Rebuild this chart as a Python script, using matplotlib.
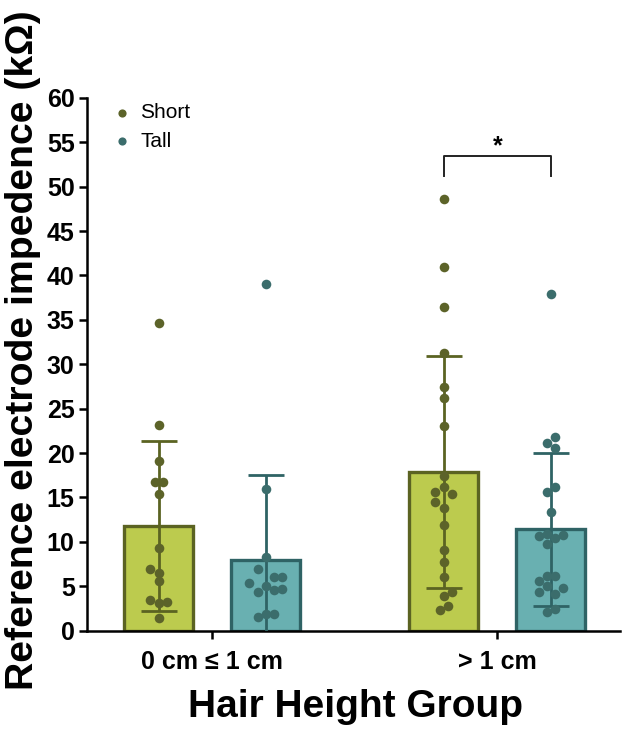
import matplotlib
matplotlib.use('Agg')
import matplotlib.pyplot as plt
import numpy as np

plt.rcParams['font.family'] = ['Liberation Sans', 'DejaVu Sans']

groups = ['0 cm \u2264 1 cm', '> 1 cm']
series = ['Short', 'Tall']

# individual impedance values (kΩ) and their horizontal jitter lanes
short_g1 = [34.6, 23.2, 19.1, 16.8, 16.7, 15.4, 9.3, 7.0, 6.5, 5.6, 3.5, 3.1, 3.2, 1.4]
short_g1_jit = [0, 0, 0, -0.5, 0.5, 0, 0, -1, 0, 0, -1, 0, 1, 0]
tall_g1 = [39.0, 16.0, 8.3, 6.9, 5.4, 6.0, 6.0, 4.4, 5.0, 4.6, 4.7, 1.5, 1.9, 1.9]
tall_g1_jit = [0, 0, 0, -1, -2, 1, 2, -1, 0, 1, 2, -1, 0, 1]
short_g2 = [48.6, 40.9, 36.4, 31.3, 27.4, 26.2, 23.1, 17.4, 16.2, 15.6, 15.4,
            14.5, 13.8, 11.9, 9.1, 7.7, 6.0, 4.4, 3.9, 2.8, 2.3]
short_g2_jit = [0, 0, 0, 0, 0, 0, 0, 0, 0, -1, 1, -1, 0, 0, 0, 0, 0, 1, 0, 0.5, -0.5]
tall_g2 = [37.9, 21.8, 21.1, 20.6, 16.2, 15.6, 13.4, 10.7, 10.9, 10.4, 10.8,
           9.8, 6.2, 6.2, 5.6, 4.4, 5.0, 4.1, 4.8, 2.1, 2.4]
tall_g2_jit = [0, 0.5, -0.5, 0.5, 0.5, -0.5, 0, -1.5, -0.5, 0.5, 1.5,
               -0.5, -0.5, 0.5, -1.5, -1.5, -0.5, 0.5, 1.5, -0.5, 0.5]

data = {'Short': [short_g1, short_g2], 'Tall': [tall_g1, tall_g2]}
jitter = {'Short': [short_g1_jit, short_g2_jit], 'Tall': [tall_g1_jit, tall_g2_jit]}

fill = {'Short': '#bccb4e', 'Tall': '#69b0b1'}
edge = {'Short': '#5b6322', 'Tall': '#2f6365'}
dots = {'Short': '#5c6329', 'Tall': '#3b6d6c'}

fig = plt.figure(figsize=(6.23, 7.30), dpi=100)
ax = fig.add_axes([0.14, 0.136, 0.855, 0.730])

width = 0.242
offset = {'Short': -0.188, 'Tall': 0.188}
lane = 0.029

for s in series:
    for g in range(len(groups)):
        vals = np.array(data[s][g])
        x0 = g + offset[s]
        mean = vals.mean()
        sd = vals.std(ddof=1)
        ax.bar(x0, mean, width=width, color=fill[s], edgecolor=edge[s],
               linewidth=2.4, zorder=2)
        ax.errorbar(x0, mean, yerr=sd, color=edge[s], elinewidth=2.0,
                    capsize=13, capthick=2.0, zorder=3, fmt='none')
        xs = x0 + np.array(jitter[s][g]) * lane
        ax.scatter(xs, vals, s=48, color=dots[s], zorder=4, linewidths=0,
                   label=s if g == 0 else None)

# significance bracket between the two ">1 cm" bars
x1, x2 = 1 + offset['Short'], 1 + offset['Tall']
ax.plot([x1, x1, x2, x2], [51.2, 53.4, 53.4, 51.2], color='#222222', lw=1.4,
        clip_on=False, zorder=5)
ax.text((x1 + x2) / 2, 53.2, '*', ha='center', va='bottom', fontsize=18,
        fontweight='bold')

ax.set_xlim(-0.439, 1.43)
ax.set_ylim(0, 60)
ax.set_yticks(np.arange(0, 61, 5))
ax.set_xticks(range(len(groups)))
ax.set_xticklabels(groups)

for side in ['top', 'right']:
    ax.spines[side].set_visible(False)
for side in ['left', 'bottom']:
    ax.spines[side].set_linewidth(1.8)

ax.tick_params(axis='y', labelsize=18, width=1.8, length=6, pad=3)
ax.tick_params(axis='x', labelsize=18, width=1.8, length=6, pad=8)
for lab in ax.get_xticklabels() + ax.get_yticklabels():
    lab.set_fontweight('bold')

ax.set_ylabel('Reference electrode impedence (k\u03a9)', fontsize=28.3,
              fontweight='bold')
ax.yaxis.set_label_coords(-0.12, 0.527)
ax.yaxis.label.set_va('center')
ax.set_xlabel('Hair Height Group', fontsize=28, fontweight='bold')
ax.xaxis.set_label_coords(0.503, -0.161)
ax.xaxis.label.set_va('baseline')

ax.legend(loc='upper left', bbox_to_anchor=(0.049, 0.99), frameon=False,
          fontsize=15, handlelength=0.8, handletextpad=0.5, markerscale=0.85,
          labelspacing=0.45, borderaxespad=0, borderpad=0)

fig.savefig('out.png', dpi=100)
